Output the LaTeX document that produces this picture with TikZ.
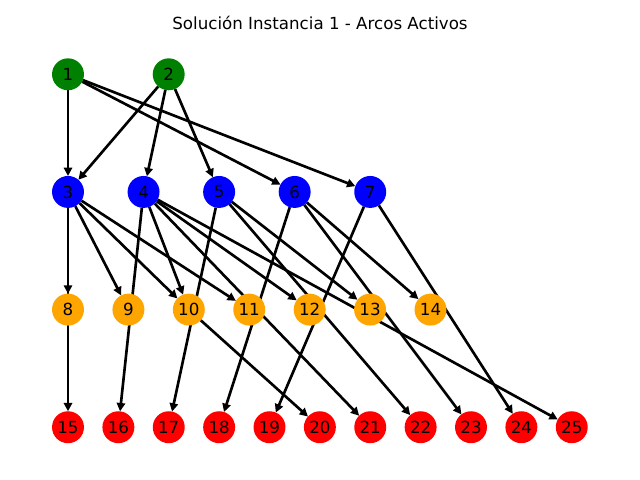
\documentclass[tikz,border=0pt]{standalone}
\usepackage{fontspec}
\setmainfont{DejaVu Sans}
\usepackage{xcolor}
\usetikzlibrary{arrows.meta,positioning,backgrounds}
\definecolor{verde}{HTML}{008000}
\definecolor{azul}{HTML}{0000FF}
\definecolor{naranja}{HTML}{FFA500}
\definecolor{rojo}{HTML}{FF0000}

\begin{document}
\begin{tikzpicture}[
  x=0.72pt, y=-0.72pt, on grid,
  nodo/.style={circle, inner sep=0pt, outer sep=0pt, minimum size=23pt,
               font=\fontsize{12}{14}\selectfont},
  orig/.style={nodo, fill=verde},
  trans/.style={nodo, fill=azul},
  inter/.style={nodo, fill=naranja},
  dest/.style={nodo, fill=rojo},
  arr/.style={-{Triangle[length=6pt,width=6pt]}, line width=1.9pt},
  titulo/.style={font=\fontsize{12}{14}\selectfont}
]
\useasboundingbox (0,0) rectangle (640,480);

\node[titulo] (tit) at (320,23) {Solución Instancia 1 - Arcos Activos};

% origenes
\node[orig] (n1) at (68,74.3) {1};
\node[orig, right=72.5pt of n1] (n2) {2};

% transbordo
\node[trans, below=84.7pt of n1] (n3) {3};
\node[trans, right=54.4pt of n3] (n4) {4};
\node[trans, right=54.4pt of n4] (n5) {5};
\node[trans, right=54.4pt of n5] (n6) {6};
\node[trans, right=54.4pt of n6] (n7) {7};

% intermedios
\node[inter, below=84.7pt of n3] (n8) {8};
\node[inter, right=43.5pt of n8] (n9) {9};
\node[inter, right=43.5pt of n9] (n10) {10};
\node[inter, right=43.5pt of n10] (n11) {11};
\node[inter, right=43.5pt of n11] (n12) {12};
\node[inter, right=43.5pt of n12] (n13) {13};
\node[inter, right=43.5pt of n13] (n14) {14};

% destinos
\node[dest, below=84.7pt of n8] (n15) {15};
\node[dest, right=36.27pt of n15] (n16) {16};
\node[dest, right=36.27pt of n16] (n17) {17};
\node[dest, right=36.27pt of n17] (n18) {18};
\node[dest, right=36.27pt of n18] (n19) {19};
\node[dest, right=36.27pt of n19] (n20) {20};
\node[dest, right=36.27pt of n20] (n21) {21};
\node[dest, right=36.27pt of n21] (n22) {22};
\node[dest, right=36.27pt of n22] (n23) {23};
\node[dest, right=36.27pt of n23] (n24) {24};
\node[dest, right=36.27pt of n24] (n25) {25};

\begin{scope}[on background layer]
\draw[arr] (n1) -- (n3);
\draw[arr] (n1) -- (n6);
\draw[arr] (n1) -- (n7);
\draw[arr] (n2) -- (n3);
\draw[arr] (n2) -- (n4);
\draw[arr] (n2) -- (n5);
\draw[arr] (n3) -- (n8);
\draw[arr] (n3) -- (n9);
\draw[arr] (n3) -- (n10);
\draw[arr] (n3) -- (n11);
\draw[arr] (n3) -- (n15);
\draw[arr] (n4) -- (n10);
\draw[arr] (n4) -- (n12);
\draw[arr] (n4) -- (n16);
\draw[arr] (n4) -- (n21);
\draw[arr] (n4) -- (n25);
\draw[arr] (n5) -- (n13);
\draw[arr] (n5) -- (n17);
\draw[arr] (n5) -- (n22);
\draw[arr] (n6) -- (n14);
\draw[arr] (n6) -- (n18);
\draw[arr] (n6) -- (n23);
\draw[arr] (n7) -- (n19);
\draw[arr] (n7) -- (n24);
\draw[arr] (n10) -- (n20);
\end{scope}
\end{tikzpicture}
\end{document}
